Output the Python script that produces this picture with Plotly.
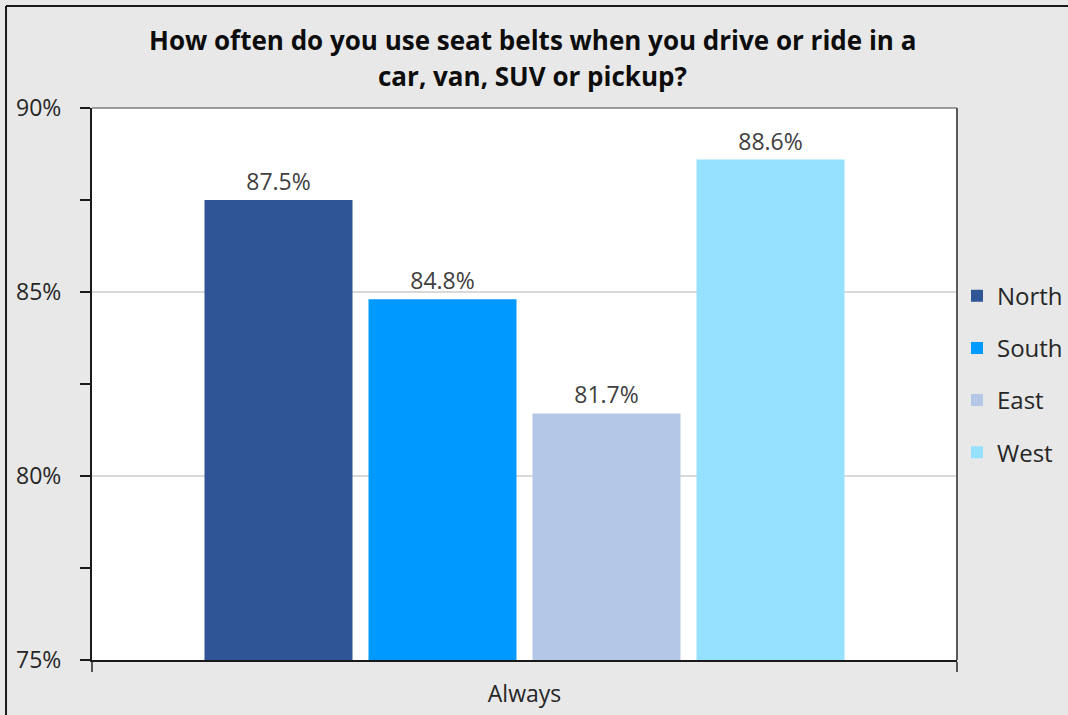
import plotly.graph_objects as go

# Survey result: share answering "Always", by region
category = ["Always"]
regions = ["North", "South", "East", "West"]
values = [87.5, 84.8, 81.7, 88.6]
colors = ["#2F5597", "#0099FF", "#B4C7E7", "#95E1FF"]
y_ticks = [75, 80, 85, 90]
y_tick_labels = [f"{v}%" for v in y_ticks]

title_lines = ["How often do you use seat belts when you drive or ride in a",
               "car, van, SUV or pickup?"]

FONT = "Open Sans"
TEXT = "#262626"

fig = go.Figure()
for name, val, col in zip(regions, values, colors):
    fig.add_trace(go.Bar(
        x=category, y=[val], name=name, legendgroup=name,
        marker=dict(color=col, line=dict(width=0)),
        text=[f"{val:.1f}%"], textposition="outside",
        textfont=dict(family=FONT, size=23, color="#404040"),
        cliponaxis=False,
    ))

fig.update_layout(
    width=1068, height=715,
    margin=dict(l=92, r=111, t=108, b=55, autoexpand=False),
    paper_bgcolor="#E8E8E8", plot_bgcolor="#FFFFFF",
    barmode="group", bargap=0.2416, bargroupgap=0.0976,
    legend=dict(x=1.0, y=0.700, xanchor="left", yanchor="top",
                bgcolor="rgba(0,0,0,0)", tracegroupgap=18,
                font=dict(family=FONT, size=24, color=TEXT)),
    showlegend=True,
    font=dict(family=FONT, color=TEXT),
)

# Two-line bold title above the plot area
for line, ypos in zip(title_lines, [1.1225, 1.0575]):
    fig.add_annotation(text=f"<b>{line}</b>", xref="paper", yref="paper",
                       x=0.5087, y=ypos, xanchor="center", yanchor="middle",
                       showarrow=False,
                       font=dict(family=FONT, size=26, color="#0D0D0D"))

fig.update_yaxes(
    range=[75, 90], tickvals=y_ticks, ticktext=y_tick_labels,
    showgrid=True, gridcolor="#D9D9D9", gridwidth=1.5,
    showline=True, linecolor="#1A1A1A", linewidth=2,
    ticks="outside", ticklen=10, tickcolor="#1A1A1A", tickwidth=1.5,
    ticklabelstandoff=14,
    minor=dict(dtick=2.5, tick0=75, ticks="outside", ticklen=10,
               tickcolor="#1A1A1A", tickwidth=1.5, showgrid=False),
    tickfont=dict(family=FONT, size=23, color=TEXT),
    zeroline=False, fixedrange=True,
)
fig.update_xaxes(
    showline=True, linecolor="#1A1A1A", linewidth=2,
    ticks="outside", tickson="boundaries", ticklen=10,
    tickcolor="#555555", tickwidth=2, ticklabelstandoff=12,
    tickfont=dict(family=FONT, size=23, color=TEXT),
    fixedrange=True,
)

# Plot-area top and right edges
fig.add_shape(type="line", xref="paper", yref="paper", x0=0, x1=1, y0=1, y1=1,
              line=dict(color="#7F7F7F", width=1.5))
fig.add_shape(type="line", xref="paper", yref="paper", x0=1, x1=1, y0=0, y1=1,
              line=dict(color="#595959", width=2))
# Outer frame along the top and left edges of the chart
fig.add_shape(type="line", xref="paper", yref="paper", x0=-0.0994, x1=1.2, y0=1.1848, y1=1.1848,
              line=dict(color="#1A1A1A", width=2))
fig.add_shape(type="line", xref="paper", yref="paper", x0=-0.0994, x1=-0.0994, y0=-0.2, y1=1.1848,
              line=dict(color="#1A1A1A", width=2))

fig.write_html("out.html")
